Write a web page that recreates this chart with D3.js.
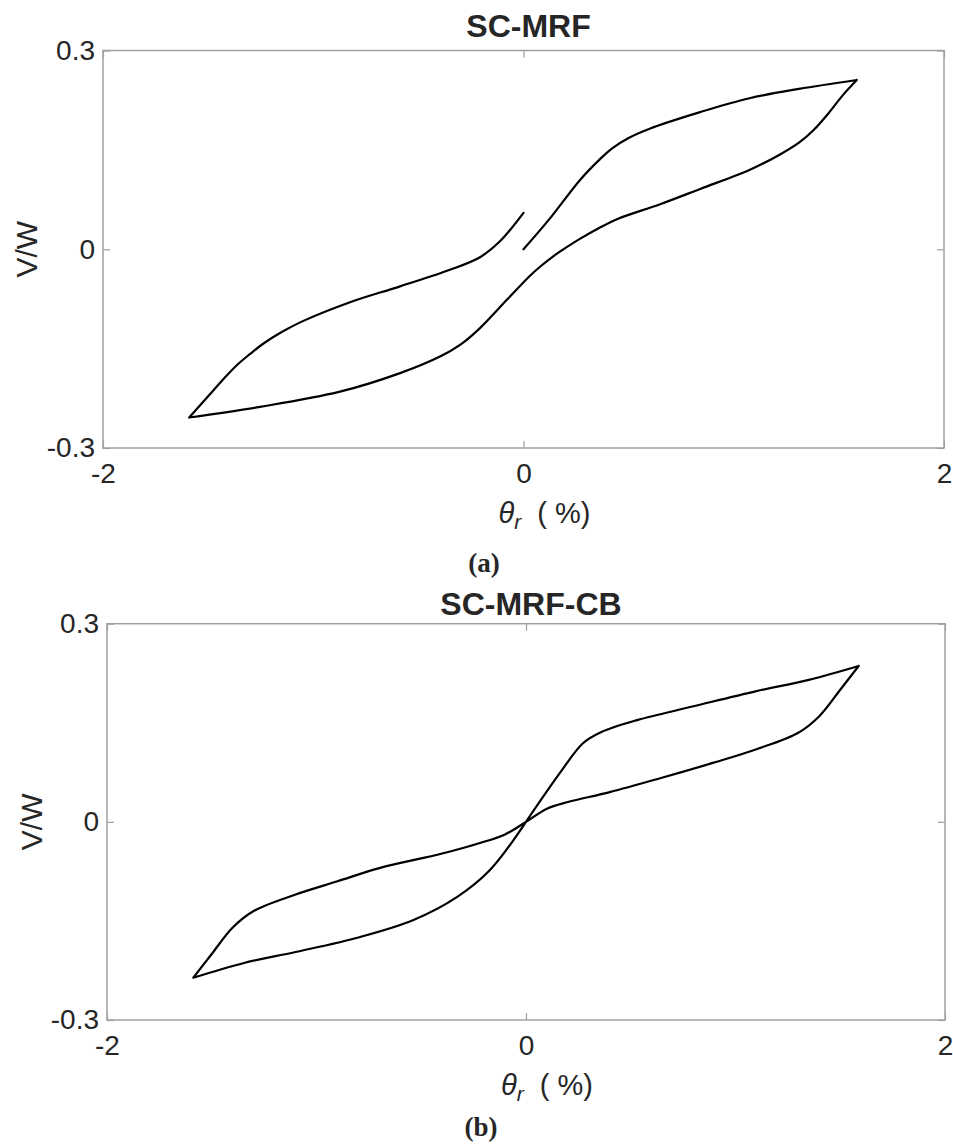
<!DOCTYPE html>
<html>
<head>
<meta charset="utf-8">
<script src="https://cdn.jsdelivr.net/npm/d3@7"></script>
<style>
  body { margin: 0; background: #fff; }
  text { fill: #262626; }
</style>
</head>
<body>
<svg id="fig" width="953" height="1144"></svg>
<script>
// Axis ranges and tick values shared by both panels
const xTicks = [-2, 0, 2];
const yTicks = [-0.3, 0, 0.3];
const xDomain = [-2, 2];
const yDomain = [-0.3, 0.3];

// Panel (a): SC-MRF hysteresis path (drift ratio %, normalised base shear)
const mrfTheta = [0, 0.127, 0.27, 0.364, 0.42, 0.50, 0.60, 0.84, 1.075, 1.31, 1.585,
  1.52, 1.45, 1.38, 1.315, 1.22, 1.077, 0.84, 0.65, 0.45, 0.36, 0.27, 0.20, 0.14, 0.08, 0.031, -0.078, -0.207, -0.30, -0.397, -0.587, -0.873, -1.254, -1.59,
  -1.50, -1.43, -1.36, -1.30, -1.24, -1.15, -1.06, -0.825, -0.587, -0.35, -0.207, -0.112, 0];
const mrfVW = [0, 0.047, 0.105, 0.136, 0.152, 0.168, 0.182, 0.207, 0.228, 0.242, 0.2555,
  0.233, 0.205, 0.180, 0.162, 0.143, 0.120, 0.091, 0.068, 0.046, 0.032, 0.016, 0.002, -0.011, -0.026, -0.040, -0.076, -0.119, -0.144, -0.162, -0.187, -0.215, -0.238, -0.254,
  -0.222, -0.197, -0.174, -0.158, -0.143, -0.125, -0.110, -0.080, -0.056, -0.031, -0.012, 0.012, 0.055];

// Panel (b): SC-MRF-CB hysteresis path
const cbTheta = [0, 0.162, 0.272, 0.36, 0.53, 0.8, 1.1, 1.35, 1.588,
  1.5, 1.4, 1.3, 1.1, 0.9, 0.64, 0.4, 0.2, 0.1, 0,
  -0.1, -0.22, -0.4, -0.7, -0.9, -1.1, -1.3, -1.4, -1.5, -1.588,
  -1.35, -1.1, -0.8, -0.54, -0.33, -0.172, 0];
const cbVW = [0, 0.074, 0.119, 0.136, 0.154, 0.175, 0.198, 0.215, 0.236,
  0.200, 0.160, 0.135, 0.110, 0.090, 0.066, 0.045, 0.030, 0.020, 0,
  -0.019, -0.032, -0.048, -0.070, -0.090, -0.110, -0.135, -0.160, -0.200, -0.236,
  -0.214, -0.197, -0.175, -0.149, -0.114, -0.073, 0];

const panels = [
  { title: "SC-MRF", tag: "(a)", theta: mrfTheta, vw: mrfVW,
    box: { left: 103, right: 944, top: 50.5, bottom: 448 },
    titleY: 37, tagX: 484, tagY: 572, yLabelX: 37 },
  { title: "SC-MRF-CB", tag: "(b)", theta: cbTheta, vw: cbVW,
    box: { left: 107, right: 945, top: 623.7, bottom: 1020 },
    titleY: 615, tagX: 481, tagY: 1136, yLabelX: 42 }
];

const svg = d3.select("#fig");
const sans = "'Liberation Sans', Arial, Helvetica, sans-serif";
const serif = "'Liberation Serif', 'Times New Roman', serif";

// plain hyphen for negative numbers
const fmtY = d => d === 0 ? "0" : (d < 0 ? "-" : "") + Math.abs(d).toFixed(1);
const fmtX = d => (d < 0 ? "-" : "") + Math.abs(d);

// split a path into branches wherever the drift direction reverses
function branches(theta, vw) {
  const out = [];
  let cur = [[theta[0], vw[0]]];
  let dir = 0;
  for (let i = 1; i < theta.length; i++) {
    const d = Math.sign(theta[i] - theta[i - 1]);
    if (dir !== 0 && d !== dir) {
      out.push(cur);
      cur = [cur[cur.length - 1]];
    }
    dir = d;
    cur.push([theta[i], vw[i]]);
  }
  out.push(cur);
  return out;
}

panels.forEach(p => {
  const b = p.box;
  const x = d3.scaleLinear().domain(xDomain).range([b.left, b.right]);
  const y = d3.scaleLinear().domain(yDomain).range([b.bottom, b.top]);
  const g = svg.append("g");

  // axes: labels outside, short ticks pointing into the plot
  const ax = g.append("g").attr("transform", `translate(0,${b.bottom})`)
    .call(d3.axisBottom(x).tickValues(xTicks).tickSizeInner(-7).tickSizeOuter(0).tickPadding(15).tickFormat(fmtX));
  const axTop = g.append("g").attr("transform", `translate(0,${b.top})`)
    .call(d3.axisTop(x).tickValues(xTicks).tickSizeInner(-7).tickSizeOuter(0).tickFormat(""));
  const ay = g.append("g").attr("transform", `translate(${b.left},0)`)
    .call(d3.axisLeft(y).tickValues(yTicks).tickSizeInner(-7).tickSizeOuter(0).tickPadding(8).tickFormat(fmtY));
  const ayR = g.append("g").attr("transform", `translate(${b.right},0)`)
    .call(d3.axisRight(y).tickValues(yTicks).tickSizeInner(-7).tickSizeOuter(0).tickFormat(""));

  [ax, axTop, ay, ayR].forEach(a => {
    a.select(".domain").remove();
    a.selectAll(".tick line").attr("stroke", "#a0a0a0").attr("stroke-width", 1.2);
    a.selectAll(".tick text").attr("font-family", sans).attr("font-size", 28).attr("fill", "#262626");
  });

  // plot box
  g.append("rect")
    .attr("x", b.left).attr("y", b.top)
    .attr("width", b.right - b.left).attr("height", b.bottom - b.top)
    .attr("fill", "none").attr("stroke", "#a0a0a0").attr("stroke-width", 1.5);

  // hysteresis curve, one smooth segment per loading/unloading branch
  const line = d3.line().x(d => x(d[0])).y(d => y(d[1])).curve(d3.curveCatmullRom.alpha(0.5));
  const dStr = branches(p.theta, p.vw).map(br => line(br)).join("");
  g.append("path")
    .attr("fill", "none")
    .attr("stroke", "#000")
    .attr("stroke-width", 2.2)
    .attr("stroke-linecap", "round")
    .attr("d", dStr);

  // title
  g.append("text")
    .attr("x", (b.left + b.right) / 2 + 5).attr("y", p.titleY)
    .attr("text-anchor", "middle")
    .attr("font-family", sans).attr("font-weight", "bold").attr("font-size", 32)
    .attr("fill", "#000")
    .text(p.title);

  // x label: θr ( %)
  const xl = g.append("text")
    .attr("x", (b.left + b.right) / 2 + 21).attr("y", b.bottom + 75)
    .attr("text-anchor", "middle")
    .attr("font-family", sans).attr("font-size", 29);
  xl.append("tspan").attr("font-style", "italic").text("θ");
  xl.append("tspan").attr("font-style", "italic").attr("font-size", 21).attr("dy", 6).text("r");
  xl.append("tspan").attr("dy", -6).attr("xml:space", "preserve").text("  ( %)");

  // y label
  g.append("text")
    .attr("transform", `translate(${p.yLabelX},${(b.top + b.bottom) / 2}) rotate(-90)`)
    .attr("text-anchor", "middle")
    .attr("font-family", sans).attr("font-size", 30)
    .text("V/W");

  // panel tag
  g.append("text")
    .attr("x", p.tagX).attr("y", p.tagY)
    .attr("text-anchor", "middle")
    .attr("font-family", serif).attr("font-weight", "bold").attr("font-size", 27)
    .attr("fill", "#000")
    .text(p.tag);
});
</script>
</body>
</html>
